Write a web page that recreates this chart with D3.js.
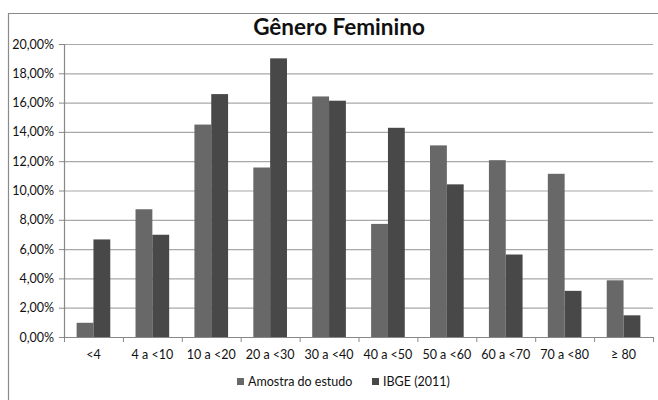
<!DOCTYPE html>
<html>
<head>
<meta charset="utf-8">
<script src="https://cdn.jsdelivr.net/npm/d3@7"></script>
<style>
body { margin: 0; background: #fff; }
text { font-family: Lato, "Open Sans", sans-serif; fill: #111; }
</style>
</head>
<body>
<div id="chart"></div>
<script>
var categories = ["<4", "4 a <10", "10 a <20", "20 a <30", "30 a <40", "40 a <50", "50 a <60", "60 a <70", "70 a <80", "\u2265 80"];
var seriesNames = ["Amostra do estudo", "IBGE (2011)"];
var amostra = [0.97, 8.72, 14.5, 11.57, 16.42, 7.72, 13.08, 12.07, 11.14, 3.87];
var ibge = [6.66, 6.98, 16.58, 19.02, 16.13, 14.28, 10.42, 5.63, 3.15, 1.48];
var yTicks = [0, 2, 4, 6, 8, 10, 12, 14, 16, 18, 20];

var svgWidth = 658;
var svgHeight = 400;
var margin = { top: 44, right: 5, bottom: 63, left: 64 };
var width = svgWidth - margin.left - margin.right;
var height = svgHeight - margin.top - margin.bottom;
var colors = ["#686868", "#484848"];

var svg = d3.select("#chart").append("svg")
	.attr("width", svgWidth)
	.attr("height", svgHeight);

// outer frame (top and left edges visible)
svg.append("path")
	.attr("d", "M8.5,400 V13.5 H658")
	.attr("fill", "none")
	.attr("stroke", "#8a8a8a")
	.attr("stroke-width", 1.2);

svg.append("text")
	.attr("x", 339)
	.attr("y", 35)
	.attr("text-anchor", "middle")
	.style("font-size", "22.5px")
	.style("font-weight", "bold")
	.text("Gênero Feminino");

var chartGroup = svg.append("g")
	.attr("transform", `translate(${margin.left}, ${margin.top})`);

var x0 = d3.scaleBand().domain(categories).range([0, width]).paddingInner(0).paddingOuter(0);
var barW = x0.bandwidth() / 3.5;
var x1 = d3.scaleBand().domain(seriesNames).range([0.75 * barW, 2.75 * barW]);
var y = d3.scaleLinear().domain([0, 20]).range([height, 0]);

// gridlines
chartGroup.append("g")
	.selectAll("line")
	.data(yTicks.slice(1))
	.enter()
	.append("line")
	.attr("x1", 0)
	.attr("x2", width)
	.attr("y1", d => y(d) + 0.5)
	.attr("y2", d => y(d) + 0.5)
	.attr("stroke", "#a8a8a8")
	.attr("stroke-width", 1.2);

var leftAxis = d3.axisLeft(y)
	.tickValues(yTicks)
	.tickSize(5)
	.tickPadding(5)
	.tickFormat(d => d.toFixed(2).replace(".", ",") + "%");

var yAxis = chartGroup.append("g").call(leftAxis);
yAxis.selectAll("text").style("font-size", "12.5px");

var data = categories.map((c, i) => ({ cat: c, values: [amostra[i], ibge[i]] }));

var groups = chartGroup.selectAll(".grp")
	.data(data)
	.enter()
	.append("g")
	.attr("transform", d => `translate(${x0(d.cat)}, 0)`);

groups.selectAll("rect")
	.data(d => d.values.map((v, j) => ({ key: seriesNames[j], v: v, j: j })))
	.enter()
	.append("rect")
	.attr("x", d => x1(d.key))
	.attr("width", x1.bandwidth())
	.attr("y", d => y(d.v))
	.attr("height", d => height - y(d.v))
	.attr("fill", d => colors[d.j]);

var bottomAxis = d3.axisBottom(x0).tickSize(0).tickPadding(13);
var xAxis = chartGroup.append("g")
	.attr("transform", `translate(0, ${height})`)
	.call(bottomAxis);
xAxis.selectAll("text").style("font-size", "12.5px");

// category boundary ticks
xAxis.selectAll(".bound")
	.data(d3.range(categories.length + 1))
	.enter()
	.append("line")
	.attr("x1", d => d * x0.step() + 0.5)
	.attr("x2", d => d * x0.step() + 0.5)
	.attr("y1", 0)
	.attr("y2", 5)
	.attr("stroke", "#888");

chartGroup.selectAll(".domain").attr("stroke", "#888").attr("stroke-width", 1.2);
yAxis.selectAll(".tick line").attr("stroke", "#888");

// legend
var legendX = [237, 372];
var legend = svg.append("g");
seriesNames.forEach(function(name, i) {
	legend.append("rect")
		.attr("x", legendX[i])
		.attr("y", 378)
		.attr("width", 7)
		.attr("height", 7)
		.attr("fill", colors[i]);
	legend.append("text")
		.attr("x", legendX[i] + 11)
		.attr("y", 386)
		.style("font-size", "12.5px")
		.text(name);
});
</script>
</body>
</html>
